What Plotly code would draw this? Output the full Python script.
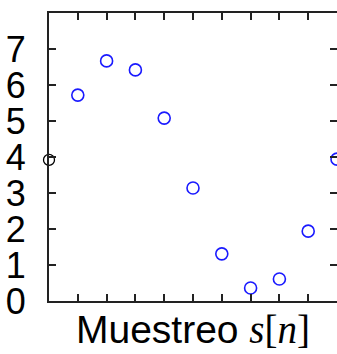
import plotly.graph_objects as go

n_first = [0]
s_first = [3.92]
n_vals = [1, 2, 3, 4, 5, 6, 7, 8, 9, 10]
s_vals = [5.72, 6.67, 6.42, 5.08, 3.14, 1.31, 0.36, 0.61, 1.94, 3.94]
ytick_vals = [0, 1, 2, 3, 4, 5, 6, 7]
xtick_vals = [0, 1, 2, 3, 4, 5, 6, 7, 8, 9, 10]

W, H = 337, 354
L, R, T, B = 49, 0, 13, 53

fig = go.Figure()
fig.add_trace(go.Scatter(
    x=n_first, y=s_first, mode="markers", cliponaxis=False,
    marker=dict(symbol="circle-open", size=11, color="black", line=dict(width=1.3, color="black")),
    showlegend=False))
fig.add_trace(go.Scatter(
    x=n_vals, y=s_vals, mode="markers", cliponaxis=False,
    marker=dict(symbol="circle-open", size=12, color="#1a1aff", line=dict(width=1.6, color="#1a1aff")),
    showlegend=False))
# invisible trace for right-side ticks
fig.add_trace(go.Scatter(x=[None], y=[None], yaxis="y2", showlegend=False))

fig.update_layout(
    width=W, height=H,
    margin=dict(l=L, r=R, t=T, b=B, pad=0),
    plot_bgcolor="white", paper_bgcolor="white",
    font=dict(family="Liberation Sans, Arial, sans-serif", color="black"),
    xaxis=dict(
        range=[0, 10], tickvals=xtick_vals, showticklabels=False,
        ticks="inside", ticklen=7, tickwidth=1.5, tickcolor="#222",
        showline=True, linecolor="#222", linewidth=2, mirror="ticks",
        showgrid=False, zeroline=False,
        title=dict(
            text="Muestreo <span style='font-family:Liberation Serif, Times New Roman, serif'><i>s</i>[<i>n</i>]</span>",
            font=dict(size=39, color="black"), standoff=14),
    ),
    yaxis=dict(
        range=[0, 8], tickvals=ytick_vals, ticktext=[str(v) for v in ytick_vals],
        ticks="inside", ticklen=7, tickwidth=1.5, tickcolor="#222",
        showline=True, linecolor="#222", linewidth=2, mirror=False,
        showgrid=False, zeroline=False,
        tickfont=dict(size=36, color="black"), ticklabelstandoff=14,
    ),
    yaxis2=dict(
        range=[0, 8], tickvals=ytick_vals, showticklabels=False, overlaying="y", side="right",
        ticks="inside", ticklen=7, tickwidth=1.5, tickcolor="#222",
        showline=False, showgrid=False, zeroline=False,
    ),
)

fig.write_html("out.html")
